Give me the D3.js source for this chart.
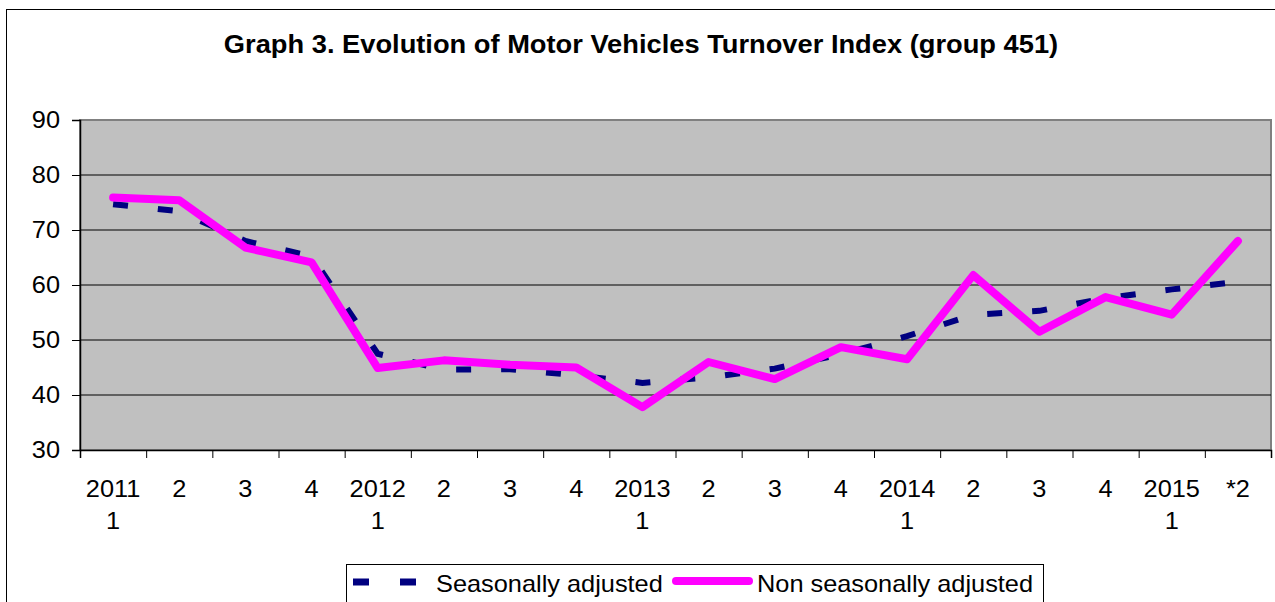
<!DOCTYPE html>
<html>
<head>
<meta charset="utf-8">
<script src="https://cdn.jsdelivr.net/npm/d3@7"></script>
<style>
  body { margin: 0; background: #fff; }
  svg { display: block; font-family: Arial, "Liberation Sans", sans-serif; }
</style>
</head>
<body>
<svg width="1275" height="602"></svg>
<script>
// categories: first and second line of the x labels
const labelTop = ["2011", "2", "3", "4", "2012", "2", "3", "4", "2013", "2", "3", "4", "2014", "2", "3", "4", "2015", "*2"];
const labelBottom = ["1", "", "", "", "1", "", "", "", "1", "", "", "", "1", "", "", "", "1", ""];
const yTicks = [30, 40, 50, 60, 70, 80, 90];

// series
const seasonallyAdjusted = [74.7, 73.4, 68.0, 65.2, 47.5, 44.6, 44.7, 43.6, 42.2, 43.2, 44.8, 47.4, 50.7, 54.6, 55.3, 57.6, 59.2, 60.6];
const nonSeasonallyAdjusted = [75.9, 75.4, 66.8, 64.1, 44.9, 46.3, 45.5, 45.0, 37.8, 46.0, 42.9, 48.7, 46.5, 61.8, 51.5, 57.8, 54.6, 68.0];

const svg = d3.select("svg");
const plotL = 80, plotR = 1271, plotT = 120, plotB = 450;
const fs = 24, stretch = 1.056; // the source text is a bit wider than Arial

// chart frame
svg.append("rect")
  .attr("x", 6.5).attr("y", 9.5)
  .attr("width", 1300).attr("height", 700)
  .attr("fill", "#fff").attr("stroke", "#000").attr("stroke-width", 1);

svg.append("text")
  .attr("transform", "translate(641,53) scale(1.07,1)")
  .attr("text-anchor", "middle")
  .attr("font-size", 25.5).attr("font-weight", "bold")
  .text("Graph 3. Evolution of Motor Vehicles Turnover Index (group 451)");

const x = d3.scaleBand().domain(d3.range(labelTop.length)).range([plotL, plotR]);
const xEdge = d3.scaleLinear().domain([0, labelTop.length]).range([plotL, plotR]);
const y = d3.scaleLinear().domain([30, 90]).range([plotB, plotT]);
const cx = i => x(i) + x.bandwidth() / 2;

// plot area
svg.append("rect")
  .attr("x", plotL).attr("y", plotT)
  .attr("width", plotR - plotL).attr("height", plotB - plotT)
  .attr("fill", "#c0c0c0").attr("stroke", "#808080").attr("stroke-width", 2);

svg.append("g")
  .selectAll("line")
  .data(yTicks.filter(d => d > 30 && d < 90))
  .join("line")
  .attr("x1", plotL).attr("x2", plotR)
  .attr("y1", d => y(d)).attr("y2", d => y(d))
  .attr("stroke", "#000").attr("stroke-width", 1.2);

// axes
const yAxis = svg.append("g")
  .attr("transform", `translate(${plotL},0)`)
  .call(d3.axisLeft(y).tickValues(yTicks).tickSize(8).tickPadding(12));
yAxis.selectAll("text")
  .attr("font-size", fs).attr("fill", "#000")
  .attr("font-family", "Arial, 'Liberation Sans', sans-serif")
  .attr("x", 0)
  .attr("transform", `translate(-20,0) scale(${stretch},1)`);
yAxis.select(".domain").attr("stroke", "#000").attr("stroke-width", 1.5);

const xAxis = svg.append("g")
  .attr("transform", `translate(0,${plotB})`)
  .call(d3.axisBottom(xEdge).tickValues(d3.range(labelTop.length + 1)).tickSize(8).tickFormat(""));
xAxis.select(".domain").attr("stroke", "#000").attr("stroke-width", 1.5);

const xl = svg.append("g").attr("font-size", fs).attr("text-anchor", "middle");
xl.selectAll("text.l1")
  .data(labelTop)
  .join("text").attr("class", "l1")
  .attr("transform", (d, i) => `translate(${cx(i)},497) scale(${stretch},1)`)
  .text(d => d);
xl.selectAll("text.l2")
  .data(labelBottom)
  .join("text").attr("class", "l2")
  .attr("transform", (d, i) => `translate(${cx(i)},529) scale(${stretch},1)`)
  .text(d => d);

// lines
const line = d3.line().x((d, i) => cx(i)).y(d => y(d));

svg.append("path")
  .datum(seasonallyAdjusted)
  .attr("d", line)
  .attr("fill", "none")
  .attr("stroke", "#000080")
  .attr("stroke-width", 6)
  .attr("stroke-dasharray", "15,30");

svg.append("path")
  .datum(nonSeasonallyAdjusted)
  .attr("d", line)
  .attr("fill", "none")
  .attr("stroke", "#ff00ff")
  .attr("stroke-width", 8)
  .attr("stroke-linejoin", "round")
  .attr("stroke-linecap", "round");

// legend
const lg = svg.append("g");
lg.append("rect")
  .attr("x", 346.5).attr("y", 564.5)
  .attr("width", 697).attr("height", 60)
  .attr("fill", "#fff").attr("stroke", "#000").attr("stroke-width", 1);
lg.append("line")
  .attr("x1", 353).attr("x2", 416).attr("y1", 582).attr("y2", 582)
  .attr("stroke", "#000080").attr("stroke-width", 7).attr("stroke-dasharray", "16,31");
lg.append("text")
  .attr("transform", `translate(436,592) scale(${stretch},1)`)
  .attr("font-size", fs).text("Seasonally adjusted");
lg.append("line")
  .attr("x1", 676).attr("x2", 749).attr("y1", 581).attr("y2", 581)
  .attr("stroke", "#ff00ff").attr("stroke-width", 8).attr("stroke-linecap", "round");
lg.append("text")
  .attr("transform", `translate(757,592) scale(${stretch},1)`)
  .attr("font-size", fs).text("Non seasonally adjusted");
</script>
</body>
</html>
